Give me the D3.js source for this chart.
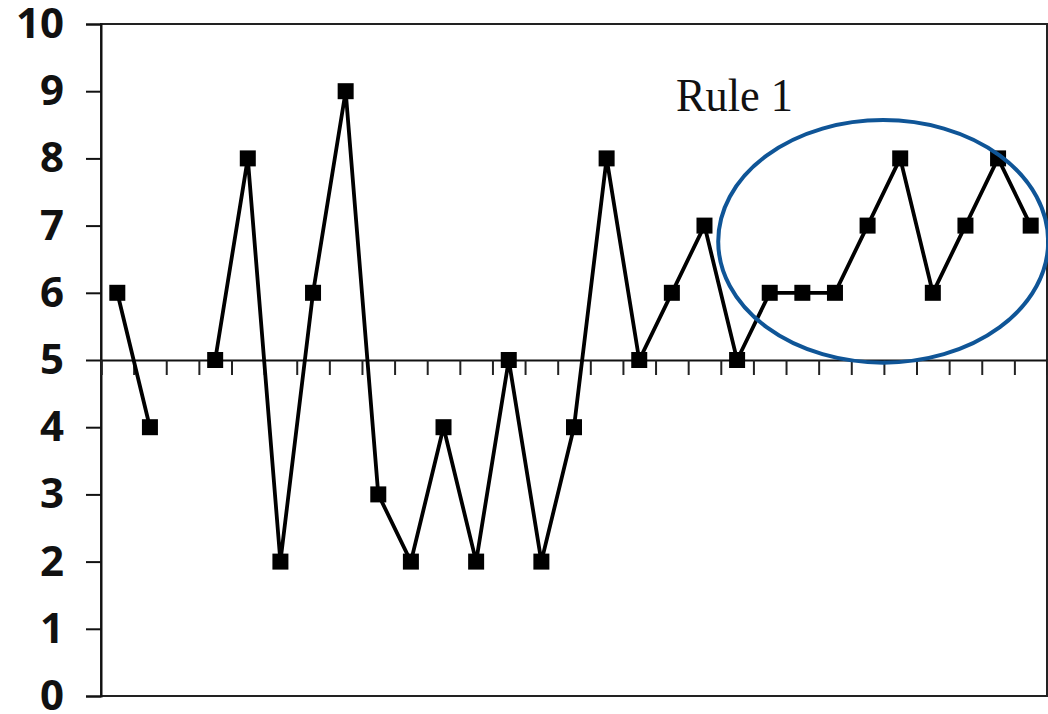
<!DOCTYPE html>
<html>
<head>
<meta charset="utf-8">
<script src="https://cdn.jsdelivr.net/npm/d3@7/dist/d3.min.js"></script>
<style>
  html, body { margin: 0; padding: 0; background: #ffffff; }
  svg { display: block; }
</style>
</head>
<body>
<svg id="chart" width="1048" height="714"></svg>
<script>
// Sample numbers along the run chart
const samples = d3.range(1, 30);
// Measured values (sample 3 missing)
const values = [6, 4, null, 5, 8, 2, 6, 9, 3, 2, 4, 2, 5, 2, 4, 8, 5, 6, 7, 5, 6, 6, 6, 7, 8, 6, 7, 8, 7];
const yTicks = [0, 1, 2, 3, 4, 5, 6, 7, 8, 9, 10];
const centerValue = 5;
const annotation = "Rule 1";
// Samples ringed by the annotation
const ruleRange = [21, 29];

const svg = d3.select("#chart");
const plotLeft = 101, plotRight = 1047, plotTop = 24, plotBottom = 696;

const x = d3.scaleBand().domain(samples).range([plotLeft, plotRight]).padding(0);
const xEdge = d3.scaleLinear().domain([0, samples.length]).range([plotLeft, plotRight]);
const y = d3.scaleLinear().domain([0, 10]).range([plotBottom, plotTop]);

// Plot frame
svg.append("rect")
  .attr("x", plotLeft).attr("y", plotTop)
  .attr("width", plotRight - plotLeft).attr("height", plotBottom - plotTop)
  .attr("fill", "none").attr("stroke", "#222").attr("stroke-width", 2);

// Value axis
const yAxis = svg.append("g")
  .attr("transform", `translate(${plotLeft},0)`)
  .call(d3.axisLeft(y).tickValues(yTicks).tickSize(15).tickPadding(22).tickFormat(d3.format("d")));
yAxis.select(".domain").attr("stroke", "#111").attr("stroke-width", 2);
yAxis.selectAll(".tick line").attr("stroke", "#111").attr("stroke-width", 2);
yAxis.selectAll(".tick text")
  .attr("fill", "#111")
  .style("font-family", "'Open Sans', sans-serif")
  .style("font-weight", "700")
  .style("font-size", "42px");

// Category axis crossing at the center value
const xAxis = svg.append("g")
  .attr("transform", `translate(0,${y(centerValue)})`)
  .call(d3.axisBottom(xEdge).tickValues(d3.range(0, samples.length + 1)).tickSize(15).tickFormat(""));
xAxis.select(".domain").attr("stroke", "#111").attr("stroke-width", 2);
xAxis.selectAll(".tick line").attr("stroke", "#222").attr("stroke-width", 2);

const pts = samples.map((s, i) => ({ s, v: values[i] }));

// Data line
svg.append("path")
  .datum(pts)
  .attr("fill", "none")
  .attr("stroke", "#000")
  .attr("stroke-width", 3.8)
  .attr("stroke-linejoin", "miter")
  .attr("d", d3.line()
    .defined(d => d.v !== null)
    .x(d => x(d.s) + x.bandwidth() / 2)
    .y(d => y(d.v)));

// Square markers
const m = 16;
svg.append("g").selectAll("rect")
  .data(pts.filter(d => d.v !== null))
  .join("rect")
  .attr("x", d => x(d.s) + x.bandwidth() / 2 - m / 2)
  .attr("y", d => y(d.v) - m / 2)
  .attr("width", m).attr("height", m)
  .attr("fill", "#000");

// Ellipse around the run of points above the center line
const cx0 = x(ruleRange[0]) + x.bandwidth() / 2;
const cx1 = x(ruleRange[1]) + x.bandwidth() / 2;
const ellTop = y(8.57), ellBottom = y(4.96);
svg.append("ellipse")
  .attr("cx", (cx0 + cx1) / 2 - 17)
  .attr("cy", (ellTop + ellBottom) / 2)
  .attr("rx", (cx1 - cx0) / 2 + 34.5)
  .attr("ry", (ellBottom - ellTop) / 2)
  .attr("fill", "none")
  .attr("stroke", "#0f5597")
  .attr("stroke-width", 4);

svg.append("text")
  .attr("x", 676)
  .attr("y", 111)
  .attr("textLength", 117)
  .attr("lengthAdjust", "spacingAndGlyphs")
  .style("font-family", "'Liberation Serif', serif")
  .style("font-size", "46px")
  .attr("fill", "#111")
  .text(annotation);
</script>
</body>
</html>
